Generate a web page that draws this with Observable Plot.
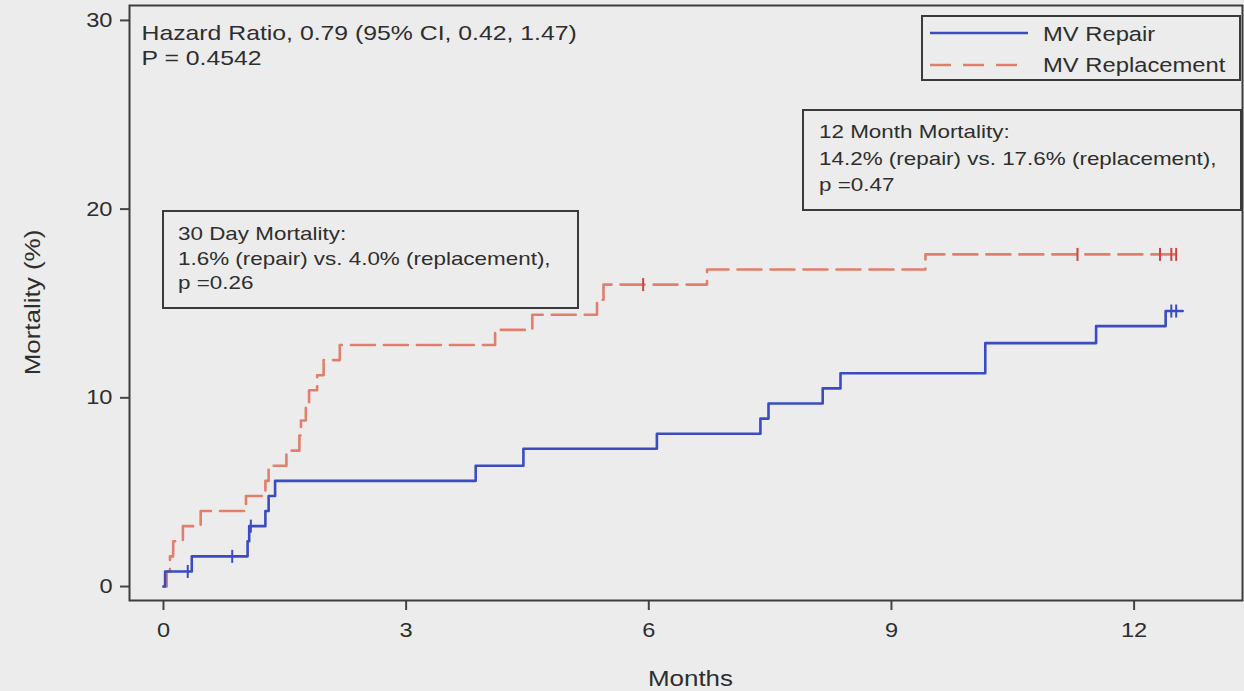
<!DOCTYPE html>
<html>
<head>
<meta charset="utf-8">
<script src="https://cdn.jsdelivr.net/npm/d3@7"></script>
<script src="https://cdn.jsdelivr.net/npm/@observablehq/plot@0.6"></script>
<style>
  html, body { margin: 0; padding: 0; background: #ececec; }
  #chart { position: relative; width: 1244px; height: 691px; }
  #chart svg { font-family: "Liberation Sans", Arial, sans-serif; display: block; }
</style>
</head>
<body>
<div id="chart"></div>
<script>
// Kaplan–Meier cumulative mortality (%) by month, step times and levels
const repairMonths      = [0, 0.02, 0.35, 1.04, 1.06, 1.26, 1.30, 1.38, 3.86, 4.45, 6.10, 7.38, 7.48, 8.15, 8.37, 10.16, 11.53, 12.39, 12.60];
const repairMortality   = [0, 0.8,  1.6,  2.4,  3.2,  4.0,  4.8,  5.6,  6.4,  7.3,  8.1,  8.9,  9.7,  10.5, 11.3, 12.9,  13.8,  14.6,  14.6];

const replacementMonths    = [0, 0.04, 0.08, 0.12, 0.24, 0.46, 1.02, 1.26, 1.30, 1.52, 1.68, 1.70, 1.76, 1.80, 1.90, 1.98, 2.18, 4.10, 4.56, 5.36, 5.44, 6.72, 9.42, 12.60];
const replacementMortality = [0, 0.8,  1.6,  2.4,  3.2,  4.0,  4.8,  5.6,  6.4,  7.2,  8.0,  8.8,  9.6,  10.4, 11.2, 12.0, 12.8, 13.6, 14.4, 15.2, 16.0, 16.8, 17.6, 17.6];

// censoring times (months)
const repairCensored      = [0.30, 0.85, 1.08, 12.46, 12.52];
const replacementCensored = [5.93, 11.30, 12.32, 12.46, 12.52];

const seriesNames = ["MV Repair", "MV Replacement"];
const xTicks = [0, 3, 6, 9, 12];
const yTicks = [0, 10, 20, 30];
const xLabel = "Months";
const yLabel = "Mortality (%)";
const hazardLines  = ["Hazard Ratio, 0.79 (95% CI, 0.42, 1.47)", "P = 0.4542"];
const day30Lines   = ["30 Day Mortality:", "1.6% (repair) vs. 4.0% (replacement),", "p =0.26"];
const month12Lines = ["12 Month Mortality:", "14.2% (repair) vs. 17.6% (replacement),", "p =0.47"];

const BLUE = "#3a4cc0";
const ORANGE = "#e27f6c";
const ORANGE_MARK = "#c9483e";
const INK = "#2e2e2e";
const FONT = '"Liberation Sans", Arial, sans-serif';
const STRETCH = 1.18;        // the typeface drawn is a little wider than Arial
const LEGEND_STRETCH = 1.16;

const toRows = (months, vals, group) => months.map((m, i) => ({month: m, mortality: vals[i], group}));
const levelAt = (months, vals, t) => {
  let v = vals[0];
  for (let i = 0; i < months.length; i++) if (months[i] <= t) v = vals[i];
  return v;
};
const censorRows = (times, months, vals, group) =>
  times.map(t => ({month: t, mortality: levelAt(months, vals, t), group}));

const repair = toRows(repairMonths, repairMortality, seriesNames[0]);
const replacement = toRows(replacementMonths, replacementMortality, seriesNames[1]);
const repairCens = censorRows(repairCensored, repairMonths, repairMortality, seriesNames[0]);
const replacementCens = censorRows(replacementCensored, replacementMonths, replacementMortality, seriesNames[1]);

// vertical tick used for censored observations
const censorSymbol = {
  draw(ctx, size) {
    const h = Math.sqrt(size / Math.PI);
    ctx.moveTo(0, -h);
    ctx.lineTo(0, h);
  }
};

const W = 1244, H = 691;
const mL = 129, mR = 2, mT = 5, mB = 91;

const chart = Plot.plot({
  width: W,
  height: H,
  marginLeft: mL,
  marginRight: mR,
  marginTop: mT,
  marginBottom: mB,
  style: {background: "transparent", fontFamily: FONT, fontSize: "20px", color: INK, overflow: "visible"},
  x: {domain: [-0.42, 13.34]},
  y: {domain: [-0.74, 30.79]},
  marks: [
    Plot.axisX({ticks: xTicks, tickSize: 10, tickPadding: 12, fontSize: 20, label: null, stroke: "#444", strokeWidth: 2, fill: INK}),
    Plot.axisY({ticks: yTicks, tickSize: 9, tickPadding: 8, fontSize: 20, label: null, stroke: "#444", strokeWidth: 2, fill: INK}),
    Plot.line(replacement, {x: "month", y: "mortality", curve: "step-after", stroke: ORANGE, strokeWidth: 2.6, strokeDasharray: "24,9"}),
    Plot.line(repair, {x: "month", y: "mortality", curve: "step-after", stroke: BLUE, strokeWidth: 2.6}),
    Plot.dot(replacementCens, {x: "month", y: "mortality", symbol: censorSymbol, r: 6.5, stroke: ORANGE_MARK, strokeWidth: 2, fill: "none"}),
    Plot.dot(repairCens, {x: "month", y: "mortality", symbol: censorSymbol, r: 6.5, stroke: BLUE, strokeWidth: 2, fill: "none"}),
    Plot.frame({stroke: "#3c3c3c", strokeWidth: 2}),
    Plot.text([hazardLines.join("\n")], {frameAnchor: "top-left", dx: 12, dy: 17, lineAnchor: "top", textAnchor: "start", lineHeight: 1.19, fontSize: 21, fill: INK})
  ]
});

document.getElementById("chart").appendChild(chart);
const svg = d3.select(chart);

// axis titles
svg.append("text")
  .attr("x", (mL + W - mR) / 2 + 5).attr("y", 686)
  .attr("text-anchor", "middle").attr("font-size", 22).attr("fill", INK)
  .text(xLabel);
svg.append("text")
  .attr("transform", `translate(40,${(mT + H - mB) / 2}) rotate(-90)`)
  .attr("text-anchor", "middle").attr("font-size", 22).attr("fill", INK)
  .text(yLabel);

// annotation boxes
function noteBox(x, y, w, h, lines, tx, baselines) {
  const g = svg.append("g").attr("text-anchor", "start");
  g.append("rect").attr("x", x).attr("y", y).attr("width", w).attr("height", h)
    .attr("fill", "none").attr("stroke", "#3a3a3a").attr("stroke-width", 2);
  lines.forEach((s, i) => {
    g.append("text").attr("x", tx).attr("y", baselines[i])
      .attr("text-anchor", "start")
      .attr("font-size", 19).attr("fill", INK).text(s);
  });
}
noteBox(163, 211, 415, 97, day30Lines, 178, [240, 264.5, 289]);
noteBox(803, 110, 438, 100, month12Lines, 819, [138, 165, 191]);

// legend
const lg = svg.append("g").attr("text-anchor", "start");
lg.append("rect").attr("x", 922).attr("y", 16).attr("width", 318).attr("height", 64)
  .attr("fill", "none").attr("stroke", "#3a3a3a").attr("stroke-width", 2);
lg.append("line").attr("x1", 930).attr("x2", 1028).attr("y1", 33).attr("y2", 33)
  .attr("stroke", BLUE).attr("stroke-width", 2.6);
lg.append("line").attr("x1", 930).attr("x2", 1028).attr("y1", 65).attr("y2", 65)
  .attr("stroke", ORANGE).attr("stroke-width", 2.6).attr("stroke-dasharray", "21,12");
lg.selectAll("text.entry").data(seriesNames).join("text")
  .attr("class", "entry legend-text")
  .attr("x", 1043).attr("y", (d, i) => 41 + i * 31)
  .attr("text-anchor", "start").attr("font-size", 20.5).attr("fill", INK)
  .text(d => d);

// widen the glyphs slightly so the text runs to its natural width in this typeface
chart.querySelectorAll("text").forEach(t => {
  const k = t.classList.contains("legend-text") ? LEGEND_STRETCH : STRETCH;
  const spans = t.querySelectorAll("tspan");
  const els = spans.length ? Array.from(spans) : [t];
  els.forEach(el => {
    const len = el.getComputedTextLength();
    if (len > 0) {
      el.setAttribute("textLength", (len * k).toFixed(1));
      el.setAttribute("lengthAdjust", "spacingAndGlyphs");
    }
  });
});
</script>
</body>
</html>
